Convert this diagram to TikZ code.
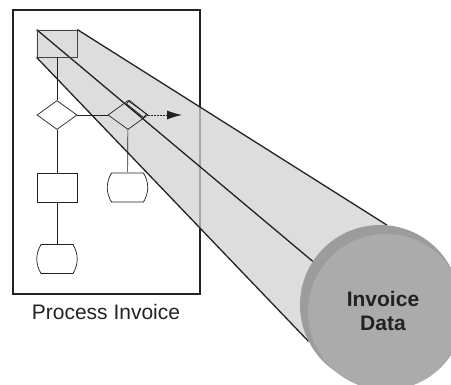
\documentclass[tikz,border=0pt]{standalone}
\usepackage{fontspec}
\setmainfont{Liberation Sans}
\usetikzlibrary{arrows.meta,shapes.geometric,backgrounds}
\definecolor{ink}{HTML}{222222}
\definecolor{beam}{HTML}{D2D2D2}
\definecolor{rimc}{HTML}{9C9C9C}
\definecolor{facec}{HTML}{ABABAB}
\tikzset{
  % Flowchart symbols: thin dark outline, all the same size.
  sym/.style     = {draw=ink, line width=0.7pt, inner sep=0pt, minimum width=40pt, minimum height=29pt},
  dec/.style     = {sym, diamond},
  act/.style     = {sym, rectangle, fill=white},
  % terminal: flat top and bottom, bulging sides, drawn inside the node box
  term/.style    = {sym, rectangle, draw=none, minimum width=42pt, minimum height=30pt,
                    path picture={
                      \draw[ink, line width=0.7pt, fill=white]
                        ([shift={(5pt,-0.5pt)}]path picture bounding box.north west)
                        -- ([shift={(-5pt,-0.5pt)}]path picture bounding box.north east)
                        to[bend left=30] ([shift={(-5pt,0.5pt)}]path picture bounding box.south east)
                        -- ([shift={(5pt,0.5pt)}]path picture bounding box.south west)
                        to[bend left=30] cycle;}},
  flow/.style    = {draw=ink, line width=0.7pt},
  outflow/.style = {-{Latex[length=15pt,width=9pt]}, dash pattern=on 2pt off 1pt, ink, line width=0.9pt},
  ray/.style     = {draw=ink, line width=1.3pt},
  disk/.style    = {circle, inner sep=0pt, minimum size=#1},
}

\begin{document}
\begin{tikzpicture}[x=1pt, y=-1pt]
\useasboundingbox (0,0) rectangle (451,384);
\clip (0,0) rectangle (451,384);

% the data store seen end-on
\node[disk=160pt, fill=rimc]  (rim)  at (380,305) {};
\node[disk=156pt, fill=facec] (face) at (386,312) {};
\node[font=\fontsize{21}{24}\selectfont\bfseries, text=ink, align=center] (store) at (383,311) {Invoice\\Data};

% process box with the flowchart
\node[sym, rectangle, draw=ink!85, line width=0.8pt, minimum height=27pt] (sq) at (57,43.5) {};
\node[dec]  (d1) at (57,115) {};
\node[dec]  (d2) at (128,115) {};
\node[act]  (r1) at (57,187.5) {};
\node[term] (t1) at (57,259) {};
\node[term] (t2) at (127.5,187.5) {};
\coordinate (tip) at (182,115);
\draw[flow] (sq) -- (d1);
\draw[flow] (d1) -- (d2);
\draw[flow] (d1) -- (r1);
\draw[flow] (r1) -- (t1);
\draw[flow] (d2) -- (t2);
\draw[outflow] (d2.east) -- (tip);
\node[draw=ink, line width=0.8pt, inner sep=0pt, minimum width=22pt, minimum height=4.5pt, rotate=-38.5] (hl) at (136.5,109) {};
\node[font=\fontsize{21}{24}\selectfont, text=ink, anchor=base] (lbl) at (106,319) {Process Invoice};

\begin{scope}[on background layer]
  \node[draw=ink, line width=2.4pt, inner sep=0pt, minimum width=187pt, minimum height=284pt] (frame) at (106.5,152) {};
  \fill[beam, fill opacity=0.75] (sq.north west) -- (sq.north east) -- (rim.85) -- (rim.center) -- (rim.207) -- (sq.south west) -- cycle;
  \draw[ray] (sq.north east) -- (rim.85);
  \draw[ray] (sq.north west) -- (rim.147);
  \draw[ray] (sq.south west) -- (rim.207);
\end{scope}
\end{tikzpicture}
\end{document}
